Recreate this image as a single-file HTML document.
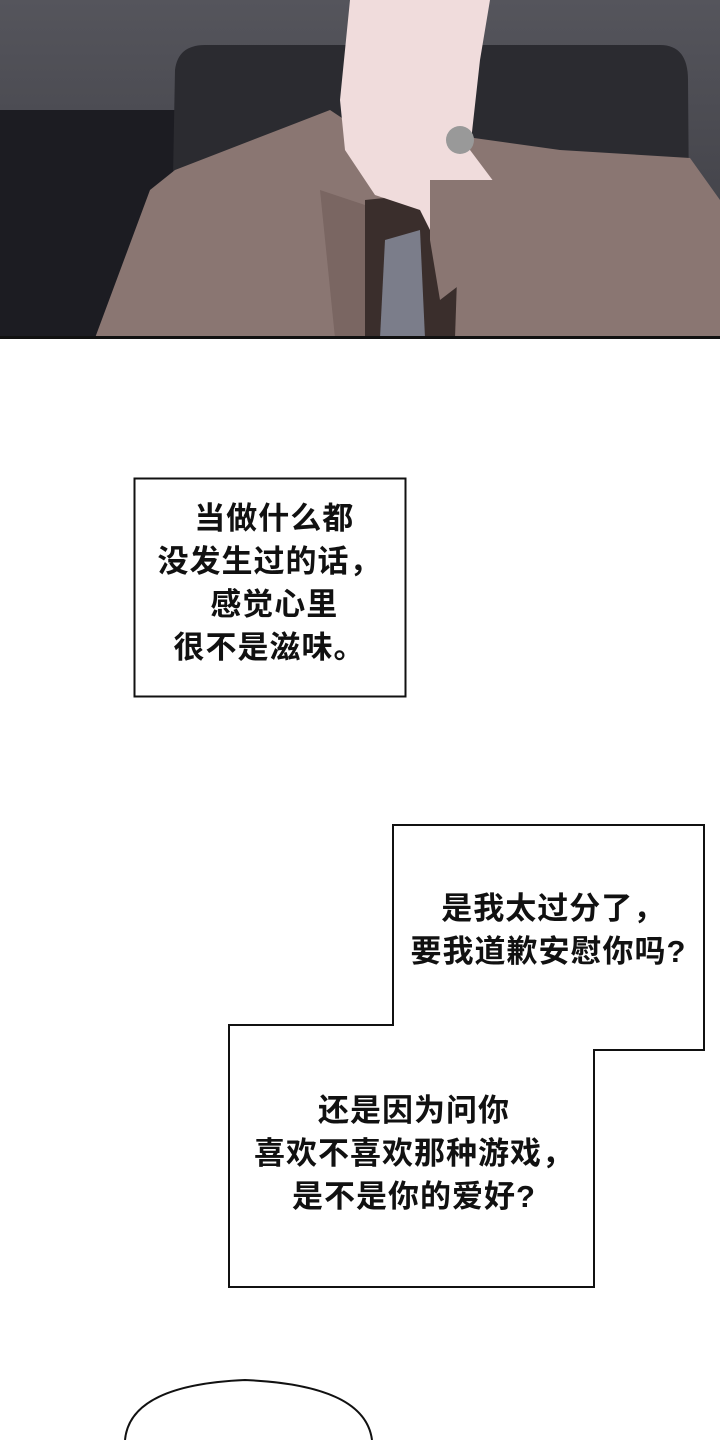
<!DOCTYPE html>
<html><head><meta charset="utf-8"><style>
html,body{margin:0;padding:0;background:#fff;}
body{width:720px;height:1440px;position:relative;overflow:hidden;font-family:"Liberation Sans","Noto Sans CJK SC",sans-serif;}
.t{position:absolute;font-size:31px;font-weight:bold;letter-spacing:1px;color:#111;white-space:nowrap;line-height:43px;text-align:center;}
</style></head><body>
<svg width="720" height="1440" style="position:absolute;left:0;top:0">
<defs><linearGradient id="bg" x1="0" y1="0" x2="0" y2="1"><stop offset="0" stop-color="#55555c"/><stop offset="1" stop-color="#3a3a40"/></linearGradient></defs>
<rect x="0" y="0" width="720" height="338" fill="url(#bg)"/>
<rect x="0" y="110" width="180" height="228" fill="#1c1c22"/>
<path d="M175 70 Q178 45 205 45 L660 45 Q688 45 688 80 L690 338 L170 338 Z" fill="#2b2b30"/>
<path d="M95 338 L150 190 L175 170 L330 110 L345 120 L560 150 L690 158 L720 200 L720 338 Z" fill="#8a7672"/>
<path d="M320 190 L365 205 L370 338 L335 338 Z" fill="#7a6662"/>
<path d="M365 200 L460 190 L455 338 L365 338 Z" fill="#3a2e2c"/>
<path d="M385 240 L420 230 L425 338 L380 338 Z" fill="#7b7d8a"/>
<rect x="378" y="440" width="0" height="0" fill="none"/>
<path d="M350 0 L490 0 L480 60 L470 150 L500 190 L470 230 L440 250 L420 210 L375 195 L345 150 L340 100 Z" fill="#f0dcdc"/>
<path d="M430 180 L500 180 L505 250 L440 300 L430 240 Z" fill="#8a7672"/>
<circle cx="460" cy="140" r="14" fill="#999"/>
<rect x="0" y="336" width="720" height="3" fill="#111"/>
<rect x="134.5" y="478.5" width="271" height="218" fill="#fff" stroke="#111" stroke-width="2"/>
<path d="M393 825 L704 825 L704 1050 L594 1050 L594 1287 L229 1287 L229 1025 L393 1025 Z" fill="#fff" stroke="#111" stroke-width="2"/>
<path d="M125 1440 Q130 1385 245 1380 Q365 1385 372 1440" fill="#fff" stroke="#111" stroke-width="2"/>
</svg>
<div class="t" style="left:134px;width:271px;top:497px">&nbsp;当做什么都<br>没发生过的话，<br>&nbsp;感觉心里<br>很不是滋味。</div>
<div class="t" style="left:393px;width:311px;top:887px">&nbsp;是我太过分了，<br>要我道歉安慰你吗?</div>
<div class="t" style="left:229px;width:370px;top:1089px">还是因为问你<br>喜欢不喜欢那种游戏，<br>是不是你的爱好?</div>
</body></html>
